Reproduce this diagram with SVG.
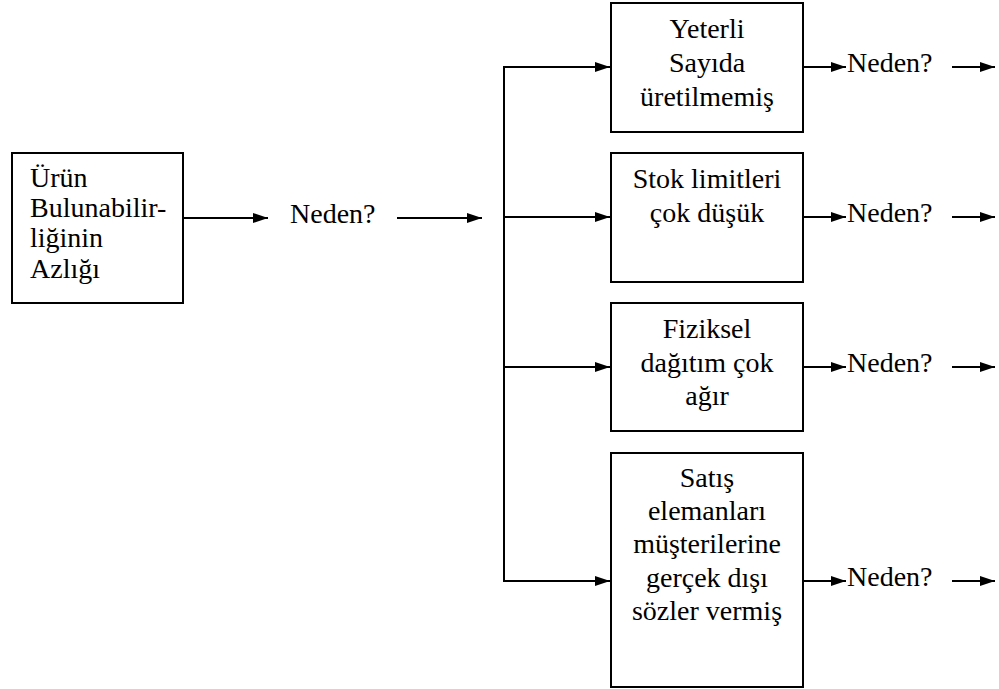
<svg xmlns="http://www.w3.org/2000/svg" width="999" height="689" viewBox="0 0 999 689">
<defs>
<marker id="ah" markerWidth="15" markerHeight="10" refX="15" refY="5" orient="auto" markerUnits="userSpaceOnUse">
<path d="M0,0 L15,5 L0,10 Z" fill="#000"/>
</marker>
<style>
.box{fill:#fff;stroke:#000;stroke-width:2}
.t{font-family:'Liberation Serif','Times New Roman',Times,'DejaVu Serif',serif;font-size:28px;fill:#000}
.c{text-anchor:middle}
.ln{stroke:#000;stroke-width:2;fill:none}
.ar{stroke:#000;stroke-width:2;fill:none;marker-end:url(#ah)}
</style>
</defs>
<rect width="999" height="689" fill="#fff"/>
<g id="connectors">
<line class="ar" x1="183" y1="218" x2="268" y2="218"/>
<line class="ar" x1="397" y1="218" x2="482" y2="218"/>
<line class="ln" x1="504" y1="67" x2="504" y2="581"/>
<line class="ar" x1="503" y1="67" x2="610" y2="67"/>
<line class="ar" x1="503" y1="217" x2="610" y2="217"/>
<line class="ar" x1="503" y1="367" x2="610" y2="367"/>
<line class="ar" x1="503" y1="581" x2="610" y2="581"/>
<line class="ar" x1="803" y1="67" x2="846" y2="67"/>
<line class="ar" x1="803" y1="217" x2="846" y2="217"/>
<line class="ar" x1="803" y1="367" x2="846" y2="367"/>
<line class="ar" x1="803" y1="581" x2="846" y2="581"/>
<line class="ar" x1="952" y1="67" x2="995" y2="67"/>
<line class="ar" x1="952" y1="217" x2="995" y2="217"/>
<line class="ar" x1="952" y1="367" x2="995" y2="367"/>
<line class="ar" x1="952" y1="581" x2="995" y2="581"/>
</g>
<g id="root">
<rect class="box" x="12" y="153" width="171" height="150"/>
<text class="t" x="30" y="187" font-family="Liberation Serif, serif">Ürün</text>
<text class="t" x="30" y="217" font-family="Liberation Serif, serif">Bulunabilir-</text>
<text class="t" x="30" y="247" font-family="Liberation Serif, serif">liğinin</text>
<text class="t" x="30" y="278" font-family="Liberation Serif, serif">Azlığı</text>
</g>
<g id="why0"><text class="t" x="290" y="223">Neden?</text></g>
<g id="n1">
<rect class="box" x="611" y="3" width="192" height="129"/>
<text class="t c" x="707" y="38">Yeterli</text>
<text class="t c" x="707" y="72">Sayıda</text>
<text class="t c" x="707" y="106">üretilmemiş</text>
</g>
<g id="n2">
<rect class="box" x="611" y="153" width="192" height="129"/>
<text class="t c" x="707" y="188">Stok limitleri</text>
<text class="t c" x="707" y="222">çok düşük</text>
</g>
<g id="n3">
<rect class="box" x="611" y="303" width="192" height="128"/>
<text class="t c" x="707" y="338">Fiziksel</text>
<text class="t c" x="707" y="372">dağıtım çok</text>
<text class="t c" x="707" y="405">ağır</text>
</g>
<g id="n4">
<rect class="box" x="611" y="453" width="192" height="234"/>
<text class="t c" x="707" y="487">Satış</text>
<text class="t c" x="707" y="520">elemanları</text>
<text class="t c" x="707" y="553">müşterilerine</text>
<text class="t c" x="707" y="587">gerçek dışı</text>
<text class="t c" x="707" y="620">sözler vermiş</text>
</g>
<g id="why1"><text class="t" x="847" y="72">Neden?</text></g>
<g id="why2"><text class="t" x="847" y="222">Neden?</text></g>
<g id="why3"><text class="t" x="847" y="372">Neden?</text></g>
<g id="why4"><text class="t" x="847" y="586">Neden?</text></g>
</svg>
